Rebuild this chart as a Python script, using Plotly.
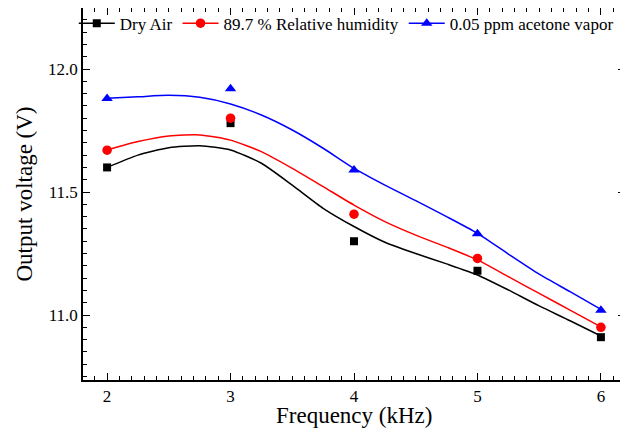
import plotly.graph_objects as go

freq = [2, 3, 4, 5, 6]
dry_air = [11.60, 11.78, 11.30, 11.18, 10.91]
rel_hum = [11.67, 11.80, 11.41, 11.23, 10.95]
acetone = [11.88, 11.92, 11.59, 11.33, 11.02]

fit_x = [2, 2.25, 2.5, 2.75, 3, 3.25, 3.5, 3.75, 4, 4.25, 4.5, 4.75, 5, 5.25, 5.5, 5.75, 6]
fit_dry = [11.600, 11.650, 11.680, 11.688, 11.671, 11.617, 11.528, 11.434, 11.360,
           11.296, 11.250, 11.208, 11.163, 11.102, 11.037, 10.977, 10.915]
fit_hum = [11.671, 11.705, 11.728, 11.732, 11.711, 11.664, 11.596, 11.522, 11.447,
           11.380, 11.325, 11.276, 11.224, 11.156, 11.088, 11.020, 10.952]
fit_ace = [11.881, 11.887, 11.893, 11.885, 11.858, 11.813, 11.752, 11.678, 11.596,
           11.528, 11.465, 11.400, 11.332, 11.248, 11.166, 11.095, 11.023]

names = ["Dry Air", "89.7 % Relative humidity", "0.05 ppm acetone vapor"]
colors = ["#000000", "#ff0000", "#0000ff"]
symbols = ["square", "circle", "triangle-up"]
sizes = [8, 9.5, 10]

fig = go.Figure()
for ys, fy, nm, c, s, sz in zip([dry_air, rel_hum, acetone], [fit_dry, fit_hum, fit_ace],
                                names, colors, symbols, sizes):
    fig.add_trace(go.Scatter(x=fit_x, y=fy, mode="lines",
                             line=dict(color=c, width=1.5, shape="spline", smoothing=0.6),
                             showlegend=False, hoverinfo="skip"))
    fig.add_trace(go.Scatter(x=freq, y=ys, mode="markers",
                             marker=dict(color=c, symbol=s, size=sz, line=dict(width=0)),
                             showlegend=False))
    fig.add_trace(go.Scatter(x=[None], y=[None], mode="lines+markers", name=nm,
                             line=dict(color=c, width=1.5),
                             marker=dict(color=c, symbol=s, size=sz, line=dict(width=0))))

axis_common = dict(showline=True, linecolor="black", linewidth=1.5, mirror="ticks", ticks="inside",
                   ticklen=7, tickwidth=1.2, tickcolor="black", showgrid=False, zeroline=False,
                   tickfont=dict(family="Liberation Serif", size=17, color="black"))

fig.update_layout(
    width=620, height=421,
    margin=dict(l=75, r=3, t=0, b=49, autoexpand=False),
    plot_bgcolor="white", paper_bgcolor="white",
    font=dict(family="Liberation Serif", color="black"),
    xaxis=dict(range=[1.805, 6.195], dtick=1,
               minor=dict(dtick=0.1, ticks="inside", ticklen=4, tickcolor="black", tickwidth=1),
               **axis_common),
    yaxis=dict(range=[10.736, 12.248], dtick=0.5, tickformat=".1f",
               minor=dict(dtick=0.05, ticks="inside", ticklen=4, tickcolor="black", tickwidth=1),
               title=dict(text="Output voltage (V)", font=dict(size=23), standoff=9), **axis_common),
    legend=dict(orientation="h", x=-0.017, y=1.0065, xanchor="left", yanchor="top",
                font=dict(size=17, family="Liberation Serif"), bgcolor="rgba(0,0,0,0)",
                itemwidth=36, tracegroupgap=0),
    annotations=[dict(text="Frequency (kHz)", xref="paper", yref="paper", x=0.5, y=0,
                      xanchor="center", yanchor="middle", yshift=-35, showarrow=False,
                      font=dict(size=23, family="Liberation Serif", color="black"))],
)

fig.write_html("out.html")
